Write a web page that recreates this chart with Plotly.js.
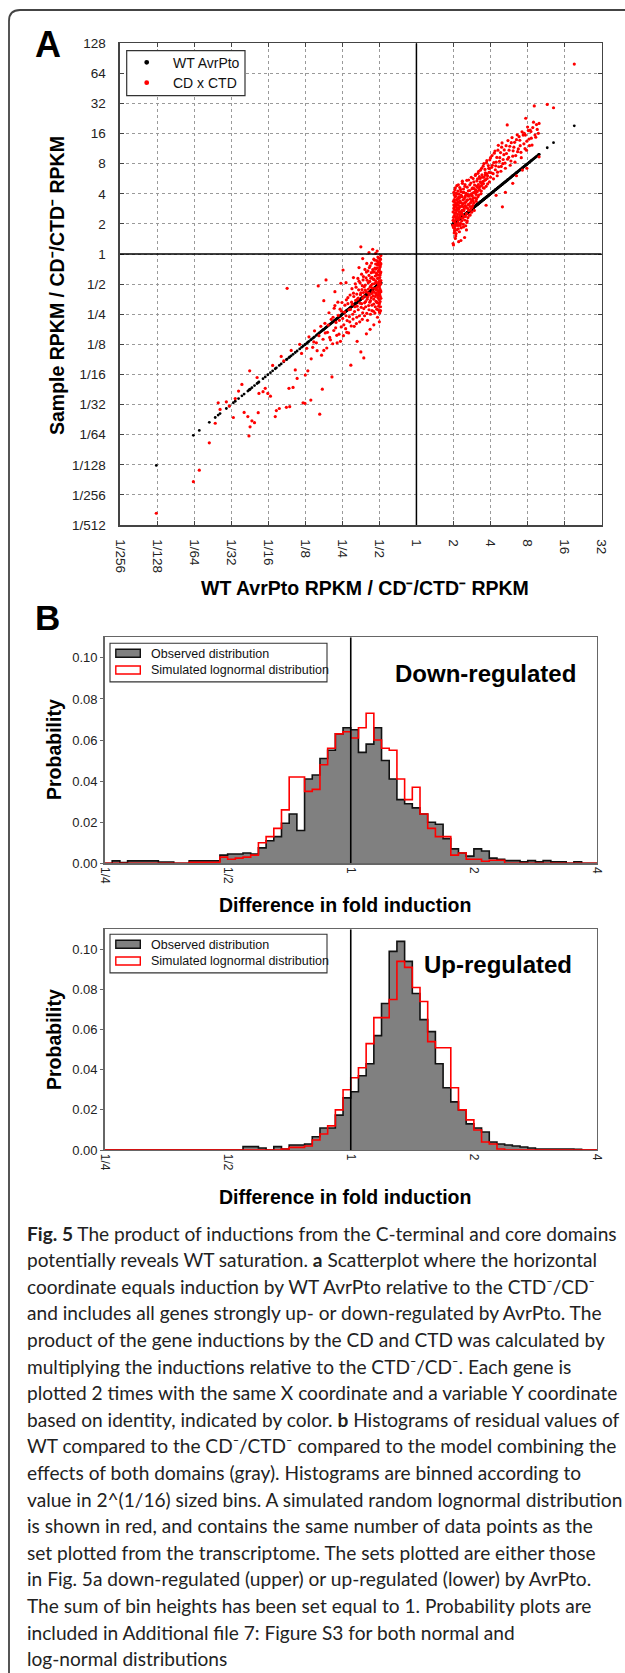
<!DOCTYPE html>
<html><head><meta charset="utf-8">
<script src="https://cdn.plot.ly/plotly-3.0.1.min.js"></script>
<style>body{margin:0;background:#fff}#c{width:625px;height:1673px}</style>
</head><body><div id="c"></div>
<script>
// ---------- DATA (log2 values) ----------
// Panel A, genes down-regulated by AvrPto: WT log2 ratio (x, and black y) and CD x CTD product (red y)
const downWT = [-7.02,-6.02,-5.86,-5.59,-5.43,-5.35,-5.30,-5.13,-5.05,-4.94,-4.89,-4.80,-4.71,-4.65,-4.55,-4.52,-4.49,-4.44,-4.37,-4.30,-4.27,-4.50,-4.25,-4.14,-4.08,-4.01,-3.94,-3.88,-3.81,-3.78,-3.70,-3.65,-3.58,-3.51,-3.49,-3.44,-3.42,-3.38,-3.33,-3.27,-3.22,-3.15,-3.10,-3.06,-3.01,-3.00,-2.93,-2.90,-2.85,-2.80,-2.75,-2.70,-2.65,-2.61,-2.58,-2.54,-2.50,-2.47,-2.44,-2.40,-2.36,-2.32,-2.28,-2.25,-2.22,-2.18,-2.15,-2.12,-2.08,-2.05,-2.04,-2.02,-1.98,-1.96,-1.93,-1.90,-1.88,-1.85,-1.82,-1.80,-1.77,-1.75,-1.72,-1.70,-1.68,-1.66,-1.63,-1.61,-1.59,-1.57,-1.55,-1.53,-1.51,-1.50,-1.50,-1.48,-1.46,-1.45,-1.43,-1.42,-1.41,-1.40,-1.38,-1.37,-1.35,-1.34,-1.33,-1.32,-1.30,-1.29,-1.28,-1.27,-1.26,-1.25,-1.24,-1.23,-1.22,-1.21,-1.20,-1.19,-1.18,-1.18,-1.17,-1.16,-1.15,-1.14,-1.13,-1.12,-1.11,-1.10,-1.10,-1.09,-1.08,-1.07,-1.07,-1.06,-1.05,-1.05,-1.04,-1.04,-1.03,-1.03,-1.02,-1.02,-1.01,-1.01,-1.00,-1.00,-0.99,-0.99,-0.99,-0.98,-0.98,-0.98,-0.97,-0.97,-0.97,-0.96,-0.96,-0.96];
const downCD = [-8.61,-7.56,-7.18,-6.27,-5.62,-4.94,-5.16,-4.91,-5.05,-5.43,-4.80,-4.55,-4.33,-5.26,-5.40,-6.04,-5.74,-5.54,-5.60,-4.10,-5.27,-3.88,-4.63,-4.57,-4.46,-4.63,-4.72,-3.70,-5.40,-5.20,-5.13,-3.40,-3.55,-5.09,-1.14,-4.46,-5.07,-3.20,-4.43,-3.85,-4.13,-3.00,-3.30,-4.94,-4.96,-4.02,-3.88,-2.75,-4.85,-3.10,-2.55,-2.95,-1.06,-5.32,-2.40,-4.49,-3.20,-2.30,-0.86,-2.60,-1.95,-2.85,-4.08,-2.10,-1.80,-2.45,-2.70,-1.60,-2.20,-2.90,-0.97,-1.90,-0.53,-2.35,-1.70,-2.05,-2.60,-1.45,-1.85,-2.25,-3.69,-1.60,-2.00,-1.30,-2.40,-1.75,-1.10,-2.10,-1.50,-1.85,-0.90,-2.25,-1.35,0.24,-3.25,-1.65,-1.05,-1.95,-0.75,-3.45,-1.40,-2.05,-1.20,-1.75,-0.60,-0.31,-1.50,-2.20,-0.95,-1.30,-1.85,-0.45,-1.60,-1.10,-2.00,-0.80,-1.45,-0.30,-1.70,-1.00,0.16,-1.25,-0.60,-1.90,-1.50,-0.85,-0.20,-1.15,-1.75,0.02,-0.50,-1.35,-0.95,-1.60,-0.70,-0.35,-1.20,-2.10,-0.10,-1.45,-0.80,-1.85,-0.55,-1.05,-0.25,-1.30,-1.65,-0.90,-0.45,-1.15,-1.95,-0.15,-0.70,-1.40,-1.00,-0.35,-1.75,-0.60,-1.25,-0.05];
const downWT2 = [-0.96,-0.96,-0.96,-0.97,-0.97,-0.97,-0.97,-0.98,-0.98,-0.98,-0.99,-0.99,-0.99,-1.00,-1.00,-1.00,-1.01,-1.01,-1.01,-1.02,-1.02,-1.02,-1.03,-1.03,-1.04,-1.04,-1.05,-1.05,-1.06,-1.06,-1.07,-1.07,-1.08,-1.08,-1.09,-1.09,-1.10,-1.10,-1.11,-1.11,-1.12,-1.12,-1.13,-1.14,-1.14,-1.15,-1.15,-1.16,-1.17,-1.18,-1.19,-1.20,-1.20,-1.21,-1.22,-1.23,-1.24,-1.25,-1.26,-1.27,-1.28,-1.29,-1.30,-1.31,-1.32,-1.33,-1.34,-1.35,-1.36,-1.37,-1.38,-1.39,-1.40,-1.41,-1.42,-1.43,-1.44,-1.45,-1.46,-1.47,-1.48,-1.49,-1.50,-1.52,-1.53,-1.54,-1.56,-1.57,-1.58,-1.60,-1.61,-1.62,-1.64,-1.65,-1.67,-1.69,-1.71,-1.73,-1.74,-1.76,-1.78,-1.79,-1.81,-1.83,-1.85,-1.87,-1.89,-1.91,-1.94,-1.97,-1.99,-2.01,-2.03,-2.06,-2.09,-2.11,-2.14,-2.17,-2.20,-2.23,-2.26,-2.30,-2.34,-2.38,-2.42,-2.46,-2.52,-2.56,-2.63,-2.68,-2.77,-2.84,-2.96,-1.55,-1.70,-1.28,-1.06,-1.45,-1.90,-2.20,-2.50,-1.15,-1.25,-1.00,-1.35,-1.60];
const downCD2 = [-0.32,-0.88,-1.47,-0.18,-0.63,-1.21,-1.88,-0.41,-0.95,-1.58,-0.27,-0.78,-1.33,-0.52,-1.08,-1.92,-0.14,-0.69,-1.51,-0.36,-1.24,-1.73,-0.58,-0.99,-0.29,-1.37,-0.81,-1.62,-0.46,-1.11,-0.22,-1.83,-0.64,-1.29,-0.91,-1.57,-0.33,-1.18,-0.73,-1.41,-0.47,-1.96,-0.98,-1.27,-0.59,-0.17,-1.66,-0.84,-1.39,-0.52,-1.13,-0.77,-1.88,-1.31,-0.62,-1.05,-1.55,-0.39,-0.91,-1.36,-0.71,-1.71,-1.17,-0.56,-1.43,-0.87,-1.97,-1.26,-0.79,-1.58,-1.03,-0.51,-1.62,-1.09,-1.81,-1.28,-0.86,-1.47,-2.17,-1.18,-0.67,-1.77,-1.29,-0.96,-1.63,-2.05,-1.19,-1.46,-0.81,-1.73,-1.33,-2.31,-1.54,-0.99,-1.91,-1.41,-2.16,-1.67,-1.15,-2.39,-1.84,-1.36,-2.08,-2.62,-1.65,-2.21,-1.52,-2.48,-1.93,-2.71,-2.14,-1.61,-2.42,-1.83,-2.66,-2.04,-2.95,-2.27,-1.71,-2.54,-2.98,-2.17,-2.77,-2.36,-3.12,-2.62,-2.83,-3.36,-2.71,-3.21,-2.92,-3.48,-3.13,-0.45,-0.78,0.05,0.10,-0.15,-0.95,-1.25,-1.55,-2.35,-2.50,-2.25,-2.65,-2.90];
// genes up-regulated by AvrPto
const upWT = [0.98,0.99,1.00,1.00,1.01,1.01,1.02,1.02,1.03,1.03,1.04,1.04,1.05,1.05,1.06,1.06,1.07,1.08,1.08,1.09,1.10,1.10,1.11,1.12,1.13,1.14,1.14,1.15,1.16,1.17,1.18,1.19,1.20,1.21,1.22,1.23,1.24,1.25,1.26,1.27,1.28,1.29,1.30,1.30,1.31,1.32,1.33,1.35,1.36,1.37,1.38,1.40,1.41,1.42,1.44,1.45,1.46,1.48,1.49,1.50,1.52,1.53,1.55,1.56,1.58,1.60,1.61,1.63,1.65,1.66,1.68,1.70,1.72,1.74,1.76,1.78,1.80,1.82,1.84,1.86,1.88,1.90,1.92,1.95,1.97,2.00,2.02,2.05,2.08,2.10,2.13,2.15,2.18,2.20,2.22,2.25,2.28,2.30,2.32,2.33,2.36,2.40,2.42,2.45,2.46,2.50,2.53,2.56,2.60,2.63,2.66,2.70,2.73,2.77,2.80,2.83,2.86,2.88,2.91,2.93,2.95,2.98,3.02,3.05,3.07,3.10,3.14,3.18,3.20,3.24,3.29,3.31,3.31,3.53,3.70,4.26];
const upCD = [0.95,1.40,0.30,1.75,1.10,2.05,0.70,1.55,1.25,0.85,1.90,1.35,1.00,2.20,1.60,0.60,1.15,1.80,1.45,0.80,2.00,1.25,1.65,1.05,2.30,0.41,1.50,1.85,1.20,1.70,0.95,2.15,1.40,1.95,1.10,1.60,2.35,1.30,1.80,0.90,2.05,1.50,0.55,1.70,2.25,1.25,1.95,1.55,2.45,1.10,1.80,2.10,1.45,1.95,2.30,1.30,1.70,2.55,2.00,1.55,2.20,1.85,2.40,1.45,2.05,2.65,1.75,2.25,2.50,1.90,2.75,2.15,2.40,2.00,2.85,2.55,2.20,3.00,2.45,2.70,2.25,3.10,2.60,2.85,2.40,3.20,2.70,2.95,2.50,3.35,2.80,3.05,2.60,3.45,2.90,3.20,2.75,3.55,1.57,3.00,3.30,2.85,3.60,4.29,3.15,3.45,2.95,3.70,3.25,3.55,3.05,3.80,3.40,3.90,3.60,3.20,2.79,3.95,4.01,3.50,4.51,3.75,4.10,3.60,4.12,3.85,4.20,4.92,3.95,4.30,4.01,4.34,3.23,4.97,4.86,6.31];
const upWT2 = [0.99,1.00,1.01,1.02,1.02,1.03,1.03,1.04,1.05,1.05,1.06,1.07,1.07,1.08,1.09,1.09,1.10,1.11,1.11,1.12,1.13,1.13,1.14,1.15,1.15,1.16,1.17,1.17,1.18,1.19,1.20,1.20,1.21,1.22,1.23,1.24,1.24,1.25,1.26,1.27,1.28,1.29,1.30,1.31,1.32,1.33,1.34,1.35,1.36,1.37,1.38,1.39,1.40,1.41,1.42,1.43,1.44,1.45,1.46,1.47,1.48,1.49,1.50,1.51,1.52,1.53,1.54,1.55,1.57,1.58,1.59,1.60,1.62,1.63,1.64,1.66,1.67,1.68,1.70,1.71,1.73,1.74,1.75,1.77,1.79,1.80,1.82,1.83,1.85,1.87,1.89,1.90,1.92,1.94,1.96,1.98,2.00,2.03,2.04,2.07,2.09,2.12,2.14,2.17,2.19,2.21,2.24,2.27,2.29,2.31,2.34,2.37,2.39,2.43,2.47,2.49,2.52,2.55,2.58,2.61,2.65,2.68,2.72,2.75,2.79,2.82,2.85,2.90,2.94,2.97,3.00,3.04,3.09,3.12,3.16,3.22,3.26,2.40,2.60,1.88,2.15,2.70,1.20,1.05,0.99,1.35,2.98,1.00,1.01,1.02,1.03,1.04,1.06,1.06,1.08,1.10,1.12,1.12,1.14,1.16,1.18,1.19,1.21,1.23,1.25,1.27,1.29,1.31,1.33,1.36,1.38,1.40,1.43,1.45,1.48,1.50,1.53,1.56,1.61,1.65,1.69,1.72,1.76,1.81,1.86,1.91,1.97];
const upCD2 = [1.12,0.88,1.63,1.97,1.28,0.77,1.46,2.13,1.71,0.93,1.37,2.02,0.68,1.18,1.54,2.27,0.97,1.83,1.33,2.09,0.84,1.62,1.14,1.99,1.41,0.74,2.21,1.27,1.76,1.02,1.58,2.07,0.87,1.36,1.91,1.19,2.42,1.67,0.99,2.16,1.44,1.83,1.13,2.31,1.61,0.94,2.02,1.34,1.78,2.22,1.52,1.21,1.92,2.46,1.66,1.29,2.11,1.83,1.48,2.36,1.74,1.39,2.17,1.93,1.61,2.51,2.04,1.69,2.29,1.87,2.61,2.12,1.83,2.43,2.07,2.68,2.31,1.96,2.57,2.24,2.79,2.36,2.09,2.63,2.41,2.92,2.55,2.19,2.81,2.47,3.03,2.66,2.33,2.94,2.71,3.13,2.55,2.88,3.27,2.67,3.04,3.42,2.93,3.21,2.72,3.61,3.08,3.37,2.91,3.69,3.14,3.46,3.02,3.34,3.77,3.21,3.58,3.09,3.87,3.43,3.71,3.27,3.96,3.49,3.78,3.38,4.06,3.66,3.95,3.45,4.22,3.82,4.07,3.62,4.38,3.88,4.14,2.05,2.35,1.62,1.95,2.60,0.45,0.52,0.35,0.80,2.85,1.22,1.51,1.81,1.07,1.62,1.92,1.22,1.66,1.47,1.74,0.95,1.88,1.55,1.32,1.90,1.70,1.45,2.05,1.57,1.25,1.89,1.72,1.05,1.98,1.64,1.94,1.58,1.99,1.78,1.77,2.17,1.98,2.21,2.12,2.51,2.28,2.34,2.62,2.51,2.84];
const xTickVals = [-8,-7,-6,-5,-4,-3,-2,-1,0,1,2,3,4,5];
const xTickText = ['1/256','1/128','1/64','1/32','1/16','1/8','1/4','1/2','1','2','4','8','16','32'];
const yTickVals = [-9,-8,-7,-6,-5,-4,-3,-2,-1,0,1,2,3,4,5,6,7];
const yTickText = ['1/512','1/256','1/128','1/64','1/32','1/16','1/8','1/4','1/2','1','2','4','8','16','32','64','128'];

// Panel B: histogram bin heights, 64 bins of 1/16 log2 from 1/4 to 4
const downObserved = [0,0.0012,0.0004,0.0012,0.0012,0.0012,0.0012,0.0006,0.0006,0,
 0,0.0012,0.0012,0.0012,0.0012,0.004,0.0045,0.0045,0.005,0.0045,
 0.0075,0.011,0.013,0.0195,0.024,0.016,0.041,0.043,0.051,0.055,
 0.063,0.066,0.065,0.054,0.058,0.066,0.050,0.041,0.031,0.029,
 0.027,0.024,0.020,0.019,0.012,0.007,0.005,0.0035,0.007,0.006,
 0.0025,0.002,0.0013,0.0013,0.0007,0.0013,0.0007,0.0013,0.0007,0.0007,
 0,0.0007,0,0];
const downSimulated = [0,0,0,0,0,0,0,0,0,0,
 0,0.0005,0.0005,0.0005,0.0005,0.003,0.002,0.0025,0.003,0.004,
 0.010,0.013,0.017,0.026,0.042,0.042,0.035,0.036,0.048,0.056,
 0.063,0.064,0.061,0.066,0.073,0.060,0.056,0.055,0.041,0.031,
 0.037,0.024,0.017,0.013,0.013,0.004,0.005,0.002,0.002,0.001,
 0.0015,0.0015,0,0,0,0,0,0,0,0,
 0,0,0,0];
const upObserved = [0,0,0,0,0,0,0,0,0,0,
 0,0,0,0,0,0,0,0,0.0017,0.0017,
 0.001,0,0.0017,0.0005,0.0025,0.0025,0.003,0.0066,0.011,0.011,
 0.0174,0.026,0.029,0.037,0.043,0.057,0.073,0.099,0.104,0.094,
 0.078,0.065,0.059,0.043,0.031,0.024,0.020,0.013,0.011,0.009,
 0.004,0.003,0.0025,0.002,0.0015,0.001,0.0005,0.0005,0.0005,0.0005,
 0.0005,0.0003,0,0];
const upSimulated = [0,0,0,0,0,0,0,0,0,0,
 0,0,0,0,0,0,0,0,0,0,
 0,0,0,0.0005,0.0013,0.0013,0.002,0.005,0.008,0.012,
 0.020,0.030,0.036,0.041,0.053,0.066,0.066,0.075,0.094,0.091,
 0.081,0.074,0.054,0.051,0.051,0.031,0.020,0.015,0.010,0.004,
 0.003,0.0005,0,0,0,0,0,0,0,0,
 0,0,0,0];
const bTickVals = [-2,-1,0,1,2];
const bTickText = ['1/4','1/2','1','2','4'];
const bYTicks = [0,0.02,0.04,0.06,0.08,0.10];

const captionLines = [
 '<b>Fig. 5</b> The product of inductions from the C-terminal and core domains',
 'potentially reveals WT saturation. <b>a</b> Scatterplot where the horizontal',
 'coordinate equals induction by WT AvrPto relative to the CTD⁻/CD⁻',
 'and includes all genes strongly up- or down-regulated by AvrPto. The',
 'product of the gene inductions by the CD and CTD was calculated by',
 'multiplying the inductions relative to the CTD⁻/CD⁻. Each gene is',
 'plotted 2 times with the same X coordinate and a variable Y coordinate',
 'based on identity, indicated by color. <b>b</b> Histograms of residual values of',
 'WT compared to the CD⁻/CTD⁻ compared to the model combining the',
 'effects of both domains (gray). Histograms are binned according to',
 'value in 2^(1/16) sized bins. A simulated random lognormal distribution',
 'is shown in red, and contains the same number of data points as the',
 'set plotted from the transcriptome. The sets plotted are either those',
 'in Fig. 5a down-regulated (upper) or up-regulated (lower) by AvrPto.',
 'The sum of bin heights has been set equal to 1. Probability plots are',
 'included in Additional file 7: Figure S3 for both normal and',
 'log-normal distributions'];

// ---------- LAYOUT HELPERS ----------
const W = 625, H = 1673;
const px = v => v / W, py = v => 1 - v / H;
const FONT = 'Liberation Sans, Arial, Helvetica, sans-serif';
const CAPFONT = 'Lato';

function stepTrace(vals, xa, ya, fill) {
  const xs = [-2], ys = [0];
  for (let i = 0; i < vals.length; i++) { xs.push(-2 + i / 16); ys.push(vals[i]); }
  xs.push(2); ys.push(vals[vals.length - 1]);
  xs.push(2); ys.push(0);
  const t = { x: xs, y: ys, xaxis: xa, yaxis: ya, mode: 'lines', line: { shape: 'hv', width: 1.6, color: fill ? '#111' : '#ff0000' }, hoverinfo: 'skip' };
  if (fill) { t.fill = 'tozeroy'; t.fillcolor = '#808080'; }
  return t;
}

const allDownWT = downWT.concat(downWT2), allDownCD = downCD.concat(downCD2);
const allUpWT = upWT.concat(upWT2), allUpCD = upCD.concat(upCD2);
const traces = [
  { x: allDownWT, y: allDownWT, mode: 'markers', marker: { color: '#000', size: 2.8 }, xaxis: 'x', yaxis: 'y' },
  { x: allUpWT, y: allUpWT, mode: 'markers', marker: { color: '#000', size: 2.8 }, xaxis: 'x', yaxis: 'y' },
  { x: allDownWT, y: allDownCD, mode: 'markers', marker: { color: '#ff0000', size: 3.2 }, xaxis: 'x', yaxis: 'y' },
  { x: allUpWT, y: allUpCD, mode: 'markers', marker: { color: '#ff0000', size: 3.2 }, xaxis: 'x', yaxis: 'y' },
  stepTrace(downObserved, 'x2', 'y2', true),
  stepTrace(downSimulated, 'x2', 'y2', false),
  stepTrace(upObserved, 'x3', 'y3', true),
  stepTrace(upSimulated, 'x3', 'y3', false)
];

const axA = {
  showgrid: true, gridcolor: '#9a9a9a', griddash: 'dot', gridwidth: 1, zeroline: false,
  showline: true, linecolor: '#444', linewidth: 1.6, mirror: 'allticks',
  ticks: 'inside', ticklen: 4, tickcolor: '#444', tickfont: { family: FONT, size: 13.5, color: '#222' }
};
const axB = {
  showgrid: false, zeroline: false, showline: true, linecolor: '#666', linewidth: 1.4, mirror: true,
  ticks: 'outside', ticklen: 3, tickcolor: '#666', tickfont: { family: FONT, size: 13, color: '#222' }
};

const layout = {
  width: W, height: H, margin: { l: 0, r: 0, t: 0, b: 0 }, paper_bgcolor: '#fff', plot_bgcolor: '#fff',
  showlegend: false,
  xaxis: Object.assign({}, axA, { domain: [px(120), px(601.7)], range: [-8, 5], tickmode: 'array', tickvals: xTickVals, ticktext: xTickText, tickangle: 90, anchor: 'y', ticklabelstandoff: 10 }),
  yaxis: Object.assign({}, axA, { domain: [py(525), py(43.3)], range: [-9, 7], tickmode: 'array', tickvals: yTickVals, ticktext: yTickText, anchor: 'x', ticklabelstandoff: 10 }),
  xaxis2: Object.assign({}, axB, { domain: [px(104.5), px(597)], range: [-2, 2], tickmode: 'array', tickvals: bTickVals, ticktext: bTickText, tickangle: 90, anchor: 'y2', ticks: '', tickfont: { family: FONT, size: 12, color: '#222' } }),
  yaxis2: Object.assign({}, axB, { domain: [py(863.3), py(637.3)], range: [0, 0.11], tickmode: 'array', tickvals: bYTicks, tickformat: '.2f', anchor: 'x2' }),
  xaxis3: Object.assign({}, axB, { domain: [px(104.5), px(597)], range: [-2, 2], tickmode: 'array', tickvals: bTickVals, ticktext: bTickText, tickangle: 90, anchor: 'y3', ticks: '', tickfont: { family: FONT, size: 12, color: '#222' } }),
  yaxis3: Object.assign({}, axB, { domain: [py(1150), py(929.3)], range: [0, 0.11], tickmode: 'array', tickvals: bYTicks, tickformat: '.2f', anchor: 'x3' }),
  shapes: [], annotations: []
};

const S = layout.shapes, A = layout.annotations;
// reference lines at fold = 1
S.push({ type: 'line', xref: 'x', yref: 'y', x0: 0, x1: 0, y0: -9, y1: 7, line: { color: '#000', width: 1.5 } });
S.push({ type: 'line', xref: 'x', yref: 'y', x0: -8, x1: 5, y0: 0, y1: 0, line: { color: '#000', width: 1.5 } });
S.push({ type: 'line', xref: 'x2', yref: 'y2', x0: 0, x1: 0, y0: 0, y1: 0.11, line: { color: '#000', width: 1.6 } });
S.push({ type: 'line', xref: 'x3', yref: 'y3', x0: 0, x1: 0, y0: 0, y1: 0.11, line: { color: '#000', width: 1.6 } });
// outer frame
S.push({ type: 'path', xref: 'paper', yref: 'paper', line: { color: '#444', width: 1.8 },
  path: `M ${px(9)},${py(1700)} L ${px(9)},${py(21)} Q ${px(9)},${py(10)} ${px(20)},${py(10)} L ${px(640)},${py(10)}` });

function rect(x0, y0, x1, y1, line, fill, lw) {
  S.push({ type: 'rect', xref: 'paper', yref: 'paper', x0: px(x0), x1: px(x1), y0: py(y1), y1: py(y0), line: { color: line, width: lw || 1.2 }, fillcolor: fill });
}
function dot(cx, cy, r, col) {
  S.push({ type: 'circle', xref: 'paper', yref: 'paper', x0: px(cx - r), x1: px(cx + r), y0: py(cy + r), y1: py(cy - r), line: { width: 0 }, fillcolor: col });
}
function txt(text, x, y, size, opt) {
  A.push(Object.assign({ text: text, xref: 'paper', yref: 'paper', x: px(x), y: py(y), showarrow: false,
    xanchor: 'center', yanchor: 'middle', font: { family: FONT, size: size, color: '#000' } }, opt || {}));
}

// Legend A
rect(126.7, 50.7, 245, 95.7, '#333', '#fff', 1.2);
dot(146.7, 62.3, 2.4, '#000');
dot(146.7, 82.7, 2.4, '#ff0000');
txt('WT AvrPto', 171, 62.8, 14, { xanchor: 'left', font: { family: FONT, size: 14, color: '#111' } });
txt('CD x CTD', 171, 83.2, 14, { xanchor: 'left', font: { family: FONT, size: 14, color: '#111' } });

// Legends B
function legB(top) {
  rect(110, top, 327, top + 38.6, '#333', '#fff', 1.1);
  rect(115.8, top + 6, 140.3, top + 14, '#111', '#808080', 1.4);
  rect(115.8, top + 22.7, 140.3, top + 30.7, '#ff0000', 'rgba(0,0,0,0)', 1.4);
  txt('Observed distribution', 149, top + 10.3, 12.5, { xanchor: 'left', font: { family: FONT, size: 12.5, color: '#111' } });
  txt('Simulated lognormal distribution', 149, top + 27, 12.5, { xanchor: 'left', font: { family: FONT, size: 12.5, color: '#111' } });
}
legB(643.3);
legB(934.3);

// Panel letters and titles
txt('<b>A</b>', 47.5, 45, 36);
txt('<b>B</b>', 47.5, 617, 35);
txt('<b>WT AvrPto RPKM / CD⁻/CTD⁻ RPKM</b>', 365, 588, 19.5);
txt('<b>Sample RPKM / CD⁻/CTD⁻ RPKM</b>', 57, 286, 19.5, { textangle: -90 });
txt('<b>Probability</b>', 54, 750, 19.5, { textangle: -90 });
txt('<b>Probability</b>', 54, 1040, 19.5, { textangle: -90 });
txt('<b>Difference in fold induction</b>', 345, 905, 19.5);
txt('<b>Difference in fold induction</b>', 345, 1196.7, 19.5);
txt('<b>Down-regulated</b>', 578, 673, 24, { xanchor: 'right' });
txt('<b>Up-regulated</b>', 574, 964, 24, { xanchor: 'right' });

// Caption: fit font size so the first line spans the measured width
const ctx = document.createElement('canvas').getContext('2d');
function measure(html, size) {
  let w = 0;
  html.split(/(<b>.*?<\/b>)/).forEach(p => {
    if (!p) return;
    const bold = p.startsWith('<b>');
    const t = p.replace(/<[^>]+>/g, '');
    ctx.font = (bold ? 'bold ' : '') + size + 'px ' + CAPFONT;
    w += ctx.measureText(t).width;
  });
  return w;
}
const capSize = 20 * 591 / measure(captionLines[0], 20);
captionLines.forEach((l, k) => {
  txt(l, 25, 1233 + 26.6 * k, capSize, { xanchor: 'left', font: { family: CAPFONT, size: capSize, color: '#222' } });
});

Plotly.newPlot('c', traces, layout, { staticPlot: true, displayModeBar: false });
</script></body></html>
